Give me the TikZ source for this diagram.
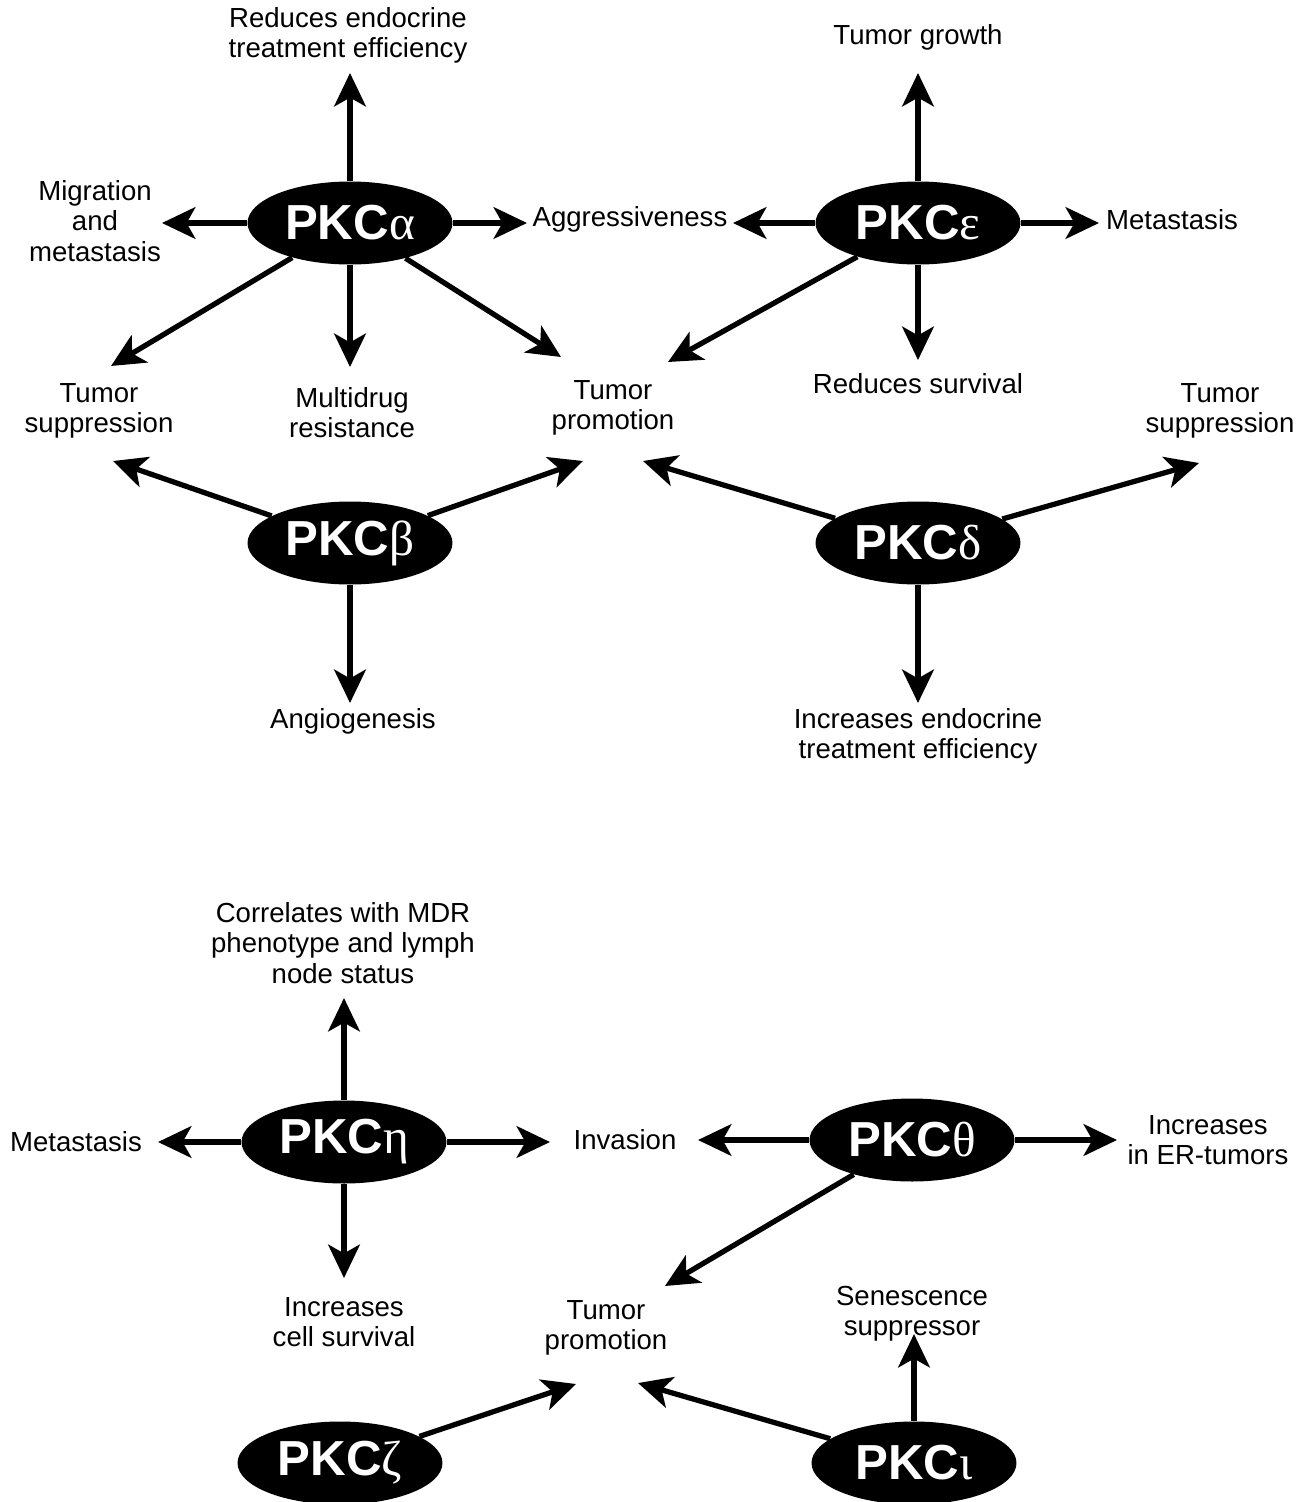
\documentclass[tikz,border=0pt]{standalone}
\usepackage{fontspec}
\setmainfont{Liberation Sans}
\newfontfamily\greekfont{Liberation Serif}
\usetikzlibrary{positioning, shapes.geometric, arrows.meta}

\tikzset{
  pkc/.style={ellipse, fill=black, text=white, minimum width=4.1cm, minimum height=1.66cm,
    inner sep=0pt, font=\fontsize{28}{30}\selectfont\bfseries},
  lbl/.style={align=center, inner sep=0pt, font=\fontsize{15.7}{17.2}\selectfont},
  arr/.style={-{Stealth[length=19pt, width=18pt, inset=5pt]}, line width=3pt},
}
\newcommand{\pkcname}[1]{PKC{\greekfont\mdseries #1}}

\begin{document}
\begin{tikzpicture}[x=0.02cm, y=-0.02cm]
  \useasboundingbox (0,0) rectangle (1306,1502);

  % --- ENZYMY ---
  \node[pkc] (alpha) at (350,223) {\pkcname{α}};
  \node[pkc] (eps)   at (918,223) {\pkcname{ε}};
  \node[pkc] (beta)  at (350,543) {\pkcname{β}};
  \node[pkc] (delta) at (918,543) {\pkcname{δ}};
  \node[pkc] (eta)   at (344,1142) {\pkcname{η}};
  \node[pkc] (theta) at (912,1140) {\pkcname{θ}};
  \node[pkc] (zeta)  at (340,1463) {\pkcname{ζ}};
  \node[pkc] (iota)  at (914,1463) {\pkcname{ι}};

  % --- ETYKIETY (górna część) ---
  \node[lbl] (redEndo)  at (348,35)   {Reduces endocrine\\treatment efficiency};
  \node[lbl] (migr)     at (95,221)   {Migration\\and\\metastasis};
  \node[lbl] (aggr)     at (630,219)  {Aggressiveness};
  \node[lbl] (growth)   at (918,37)   {Tumor growth};
  \node[lbl] (metaA)    at (1172,220) {Metastasis};
  \node[lbl] (suppL)    at (99,411)   {Tumor\\suppression};
  \node[lbl] (mdr)      at (352,413)  {Multidrug\\resistance};
  \node[lbl] (promA)    at (613,408)  {Tumor\\promotion};
  \node[lbl] (survRed)  at (918,384)  {Reduces survival};
  \node[lbl] (suppR)    at (1220,411) {Tumor\\suppression};
  \node[lbl] (angio)    at (353,721)  {Angiogenesis};
  \node[lbl] (incEndo)  at (918,736)  {Increases endocrine\\treatment efficiency};

  % --- ETYKIETY (dolna część) ---
  \node[lbl] (corr)     at (343,943)  {Correlates with MDR\\phenotype and lymph\\node status};
  \node[lbl] (metaB)    at (76,1142)  {Metastasis};
  \node[lbl] (inv)      at (625,1140) {Invasion};
  \node[lbl] (erTum)    at (1208,1140) {Increases\\in ER-tumors};
  \node[lbl] (cellSurv) at (344,1322) {Increases\\cell survival};
  \node[lbl] (promB)    at (606,1328) {Tumor\\promotion};
  \node[lbl] (senes)    at (912,1314) {Senescence\\suppressor};

  % --- KOŃCE STRZAŁEK ---
  \coordinate (aU) at (350,73);   \coordinate (aL) at (162,223);
  \coordinate (aR) at (527,223);  \coordinate (aDL) at (111,366);
  \coordinate (aD) at (350,367);  \coordinate (aDR) at (561,357);
  \coordinate (eU) at (918,73);   \coordinate (eL) at (733,223);
  \coordinate (eR) at (1099,223); \coordinate (eD) at (918,360);
  \coordinate (eDL) at (668,362);
  \coordinate (bUL) at (113,461); \coordinate (bUR) at (583,461);
  \coordinate (bD) at (350,703);
  \coordinate (dUL) at (643,461); \coordinate (dUR) at (1199,463);
  \coordinate (dD) at (918,703);
  \coordinate (hU) at (344,998);  \coordinate (hL) at (158,1142);
  \coordinate (hR) at (550,1142); \coordinate (hD) at (344,1278);
  \coordinate (tL) at (698,1140); \coordinate (tR) at (1117,1140);
  \coordinate (tDL) at (665,1286);
  \coordinate (zUR) at (576,1384);
  \coordinate (iUL) at (638,1383); \coordinate (iU) at (914,1334);

  % --- STRZAŁKI ---
  \foreach \t in {aU,aL,aR,aDL,aD,aDR} \draw[arr] (alpha) -- (\t);
  \foreach \t in {eU,eL,eR,eD,eDL} \draw[arr] (eps) -- (\t);
  \foreach \t in {bUL,bUR,bD} \draw[arr] (beta) -- (\t);
  \foreach \t in {dUL,dUR,dD} \draw[arr] (delta) -- (\t);
  \foreach \t in {hU,hL,hR,hD} \draw[arr] (eta) -- (\t);
  \foreach \t in {tL,tR,tDL} \draw[arr] (theta) -- (\t);
  \draw[arr] (zeta) -- (zUR);
  \foreach \t in {iUL,iU} \draw[arr] (iota) -- (\t);
\end{tikzpicture}
\end{document}
